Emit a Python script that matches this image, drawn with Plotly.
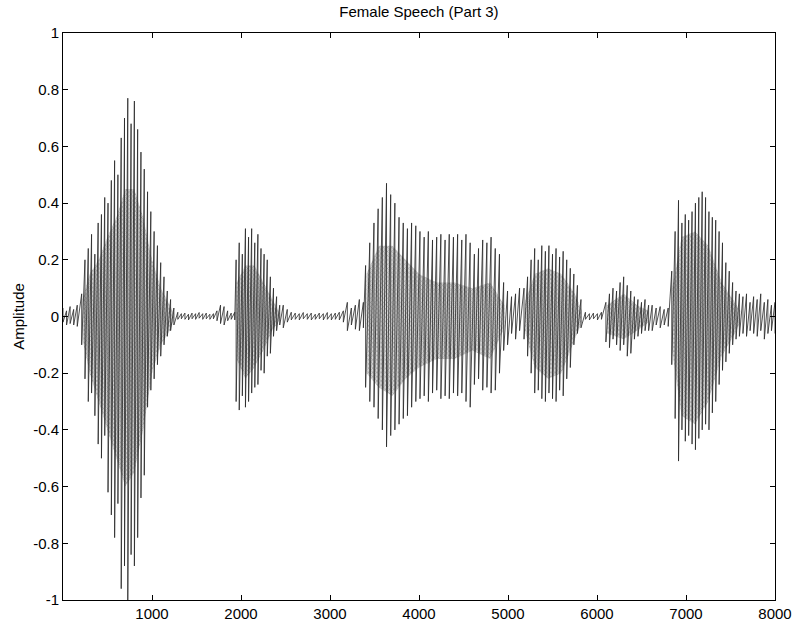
import plotly.graph_objects as go

# Speech waveform, described by the positive and negative peak of each
# pitch pulse (sample index, peak above zero, peak below zero).

# leading silence
n0_x = [0, 40, 80, 120, 160]
n0_hi = [0.03, 0.02, 0.035, 0.025, 0.04]
n0_lo = [-0.02, -0.03, -0.025, -0.03, -0.035]

# first vowel
v1_x = [210, 247, 284, 321, 358, 395, 432, 469, 506, 543, 580, 617, 654, 691, 728,
        765, 802, 839, 876, 913, 950, 987, 1024, 1061, 1098, 1135, 1172, 1209, 1246]
v1_hi = [0.08, 0.20, 0.24, 0.29, 0.22, 0.33, 0.36, 0.42, 0.40, 0.48, 0.55, 0.50, 0.63, 0.70, 0.77,
         0.68, 0.76, 0.66, 0.58, 0.52, 0.44, 0.37, 0.30, 0.25, 0.19, 0.14, 0.09, 0.06, 0.03]
v1_lo = [-0.10, -0.22, -0.30, -0.27, -0.35, -0.45, -0.50, -0.42, -0.62, -0.70, -0.78, -0.66, -0.96, -0.88, -1.00,
         -0.84, -0.88, -0.78, -0.64, -0.56, -0.32, -0.26, -0.22, -0.17, -0.14, -0.10, -0.07, -0.05, -0.03]

# pause
n1_x = [1290, 1330, 1370, 1410, 1450, 1490, 1530, 1570, 1610, 1650, 1690, 1730, 1770, 1810, 1850, 1890, 1930]
n1_hi = [0.015, 0.01, 0.012, 0.008, 0.012, 0.01, 0.014, 0.01, 0.012, 0.008, 0.01, 0.02, 0.04, 0.035, 0.02, 0.012, 0.015]
n1_lo = [-0.01, -0.008, -0.01, -0.012, -0.008, -0.01, -0.006, -0.01, -0.008, -0.01, -0.008, -0.015, -0.025, -0.03, -0.015, -0.01, -0.012]

# second vowel
v2_x = [1945, 1980, 2015, 2050, 2085, 2120, 2155, 2190, 2225, 2260, 2295, 2330, 2365, 2400, 2435]
v2_hi = [0.20, 0.26, 0.22, 0.31, 0.28, 0.31, 0.26, 0.29, 0.24, 0.22, 0.20, 0.14, 0.10, 0.07, 0.04]
v2_lo = [-0.30, -0.33, -0.28, -0.32, -0.30, -0.27, -0.25, -0.24, -0.19, -0.20, -0.14, -0.13, -0.07, -0.05, -0.03]

# pause
n2_x = [2475, 2520, 2565, 2610, 2655, 2700, 2745, 2790, 2835, 2880, 2925, 2970, 3015,
        3060, 3105, 3150, 3195, 3240, 3285, 3330, 3375]
n2_hi = [0.04, 0.025, 0.015, 0.012, 0.01, 0.014, 0.01, 0.012, 0.008, 0.012, 0.01, 0.014,
         0.01, 0.012, 0.015, 0.02, 0.05, 0.03, 0.04, 0.06, 0.05]
n2_lo = [-0.04, -0.02, -0.012, -0.01, -0.012, -0.008, -0.01, -0.012, -0.01, -0.008, -0.012,
         -0.01, -0.012, -0.01, -0.012, -0.02, -0.05, -0.03, -0.045, -0.05, -0.04]

# third vowel
v3_x = [3400, 3447, 3494, 3541, 3588, 3635, 3682, 3729, 3776, 3823, 3870, 3917, 3964, 4011,
        4058, 4105, 4152, 4199, 4246, 4293, 4340, 4387, 4434, 4481, 4528, 4575, 4622, 4669,
        4716, 4763, 4810, 4857, 4904, 4951]
v3_hi = [0.18, 0.26, 0.33, 0.38, 0.42, 0.47, 0.43, 0.40, 0.35, 0.33, 0.31, 0.33, 0.32, 0.30,
         0.28, 0.30, 0.27, 0.28, 0.29, 0.27, 0.29, 0.28, 0.29, 0.27, 0.29, 0.26, 0.22, 0.24,
         0.27, 0.26, 0.28, 0.24, 0.22, 0.12]
v3_lo = [-0.25, -0.30, -0.32, -0.36, -0.40, -0.46, -0.42, -0.40, -0.38, -0.36, -0.35, -0.32, -0.30, -0.29,
         -0.28, -0.30, -0.27, -0.26, -0.29, -0.28, -0.29, -0.27, -0.28, -0.27, -0.30, -0.32, -0.24, -0.22,
         -0.26, -0.25, -0.27, -0.26, -0.20, -0.12]

# short transition
t3_x = [4995, 5040, 5085, 5130]
t3_hi = [0.09, 0.07, 0.08, 0.10]
t3_lo = [-0.10, -0.06, -0.08, -0.05]

# fourth vowel
v4_x = [5180, 5220, 5260, 5300, 5340, 5380, 5420, 5460, 5500, 5540, 5580, 5620, 5660, 5700, 5740, 5780, 5820]
v4_hi = [0.10, 0.14, 0.20, 0.24, 0.20, 0.25, 0.23, 0.25, 0.22, 0.24, 0.21, 0.23, 0.20, 0.17, 0.15, 0.11, 0.06]
v4_lo = [-0.08, -0.14, -0.20, -0.27, -0.26, -0.29, -0.30, -0.27, -0.29, -0.30, -0.26, -0.28, -0.22, -0.18, -0.10, -0.06, -0.04]

# pause
n3_x = [5870, 5915, 5960, 6005, 6050]
n3_hi = [0.015, 0.01, 0.012, 0.01, 0.015]
n3_lo = [-0.01, -0.012, -0.008, -0.012, -0.01]

# fifth (weak) vowel
v5_x = [6100, 6140, 6180, 6220, 6260, 6300, 6340, 6380, 6420, 6460, 6500, 6540, 6580]
v5_hi = [0.05, 0.08, 0.10, 0.09, 0.12, 0.14, 0.11, 0.09, 0.07, 0.06, 0.05, 0.06, 0.04]
v5_lo = [-0.09, -0.11, -0.08, -0.10, -0.12, -0.10, -0.14, -0.13, -0.08, -0.07, -0.06, -0.05, -0.05]

# pause
n4_x = [6620, 6665, 6710, 6755, 6800]
n4_hi = [0.04, 0.03, 0.035, 0.025, 0.03]
n4_lo = [-0.05, -0.03, -0.04, -0.03, -0.035]

# sixth vowel
v6_x = [6840, 6878, 6916, 6954, 6992, 7030, 7068, 7106, 7144, 7182, 7220, 7258, 7296, 7334,
        7372, 7410, 7448, 7486, 7524, 7562, 7600]
v6_hi = [0.16, 0.30, 0.41, 0.33, 0.36, 0.34, 0.37, 0.40, 0.42, 0.44, 0.42, 0.37, 0.35, 0.34,
         0.30, 0.26, 0.19, 0.16, 0.12, 0.09, 0.08]
v6_lo = [-0.17, -0.36, -0.51, -0.40, -0.44, -0.42, -0.45, -0.47, -0.43, -0.40, -0.38, -0.40, -0.34, -0.30,
         -0.24, -0.19, -0.16, -0.13, -0.10, -0.08, -0.07]

# trailing breath noise
n5_x = [7640, 7680, 7720, 7760, 7800, 7840, 7880, 7920, 7960, 8000]
n5_hi = [0.07, 0.08, 0.05, 0.07, 0.06, 0.08, 0.05, 0.06, 0.04, 0.05]
n5_lo = [-0.06, -0.07, -0.05, -0.06, -0.07, -0.05, -0.08, -0.06, -0.05, -0.06]

# dense inner oscillation between pulses (the band the signal fills most of the time)
c1_x = [220, 300, 400, 500, 600, 700, 800, 900, 1000, 1100, 1200, 1250]
c1_hi = [0.06, 0.15, 0.20, 0.28, 0.35, 0.45, 0.45, 0.35, 0.20, 0.10, 0.04, 0.01]
c1_lo = [-0.08, -0.20, -0.30, -0.40, -0.50, -0.60, -0.55, -0.40, -0.20, -0.10, -0.05, -0.01]

c2_x = [1950, 2050, 2150, 2250, 2350, 2440]
c2_hi = [0.12, 0.18, 0.18, 0.12, 0.06, 0.01]
c2_lo = [-0.15, -0.22, -0.18, -0.12, -0.05, -0.01]

c3_x = [3410, 3550, 3700, 3850, 4000, 4200, 4400, 4600, 4800, 4960]
c3_hi = [0.15, 0.25, 0.25, 0.20, 0.15, 0.12, 0.12, 0.10, 0.12, 0.04]
c3_lo = [-0.20, -0.25, -0.28, -0.22, -0.18, -0.15, -0.15, -0.12, -0.15, -0.04]

c4_x = [5190, 5300, 5450, 5600, 5750, 5830]
c4_hi = [0.05, 0.15, 0.17, 0.15, 0.08, 0.02]
c4_lo = [-0.05, -0.18, -0.22, -0.20, -0.08, -0.02]

c5_x = [6110, 6300, 6450, 6580]
c5_hi = [0.04, 0.08, 0.04, 0.02]
c5_lo = [-0.06, -0.08, -0.05, -0.02]

c6_x = [6845, 6950, 7100, 7250, 7400, 7550, 7610]
c6_hi = [0.10, 0.28, 0.30, 0.25, 0.12, 0.05, 0.02]
c6_lo = [-0.12, -0.35, -0.38, -0.30, -0.14, -0.06, -0.02]

x_ticks = [1000, 2000, 3000, 4000, 5000, 6000, 7000, 8000]
y_ticks = [1, 0.8, 0.6, 0.4, 0.2, 0, -0.2, -0.4, -0.6, -0.8, -1]
y_labels = ["1", "0.8", "0.6", "0.4", "0.2", "0", "-0.2", "-0.4", "-0.6", "-0.8", "-1"]

segments = [
    (n0_x, n0_hi, n0_lo), (v1_x, v1_hi, v1_lo), (n1_x, n1_hi, n1_lo),
    (v2_x, v2_hi, v2_lo), (n2_x, n2_hi, n2_lo), (v3_x, v3_hi, v3_lo),
    (t3_x, t3_hi, t3_lo), (v4_x, v4_hi, v4_lo), (n3_x, n3_hi, n3_lo),
    (v5_x, v5_hi, v5_lo), (n4_x, n4_hi, n4_lo), (v6_x, v6_hi, v6_lo),
    (n5_x, n5_hi, n5_lo),
]
cores = [(c1_x, c1_hi, c1_lo), (c2_x, c2_hi, c2_lo), (c3_x, c3_hi, c3_lo),
         (c4_x, c4_hi, c4_lo), (c5_x, c5_hi, c5_lo), (c6_x, c6_hi, c6_lo)]

font = "Liberation Sans, Arial, Helvetica, sans-serif"

fig = go.Figure()

# inner band of each voiced stretch, closed as a polygon (upper edge, then lower edge back)
for cx, chi, clo in cores:
    fig.add_trace(go.Scatter(
        x=list(cx) + list(cx)[::-1], y=list(chi) + list(clo)[::-1],
        mode="lines", fill="toself",
        line=dict(width=0, color="rgba(0,0,0,0)"),
        fillcolor="rgba(130,130,130,0.45)",
        fillpattern=dict(shape="x", size=3, solidity=0.3,
                         fgcolor="#505050", bgcolor="rgba(165,165,165,0.45)"),
        hoverinfo="skip", showlegend=False,
    ))

# each pulse is drawn as a stroke from its positive to its negative peak
wave_x, wave_y = [], []
for sx, shi, slo in segments:
    for x, h, l in zip(sx, shi, slo):
        wave_x += [x, x]
        wave_y += [h, l]

fig.add_trace(go.Scatter(
    x=wave_x, y=wave_y, mode="lines",
    line=dict(color="#262626", width=0.8, simplify=False),
    hoverinfo="skip", showlegend=False,
))

axis_common = dict(
    showline=True, linecolor="#000000", linewidth=1, mirror="ticks",
    ticks="inside", ticklen=5, tickcolor="#000000", tickwidth=1,
    showgrid=False, zeroline=False, automargin=False,
    tickfont=dict(family=font, size=15, color="#000000"),
)

fig.update_layout(
    width=795, height=627,
    margin=dict(l=63, r=20, t=33, b=27),
    paper_bgcolor="#ffffff", plot_bgcolor="#ffffff",
    title=dict(text="Female Speech (Part 3)", x=0.527, xanchor="center",
               y=0.99, yanchor="top",
               font=dict(family=font, size=15, color="#000000")),
    xaxis=dict(range=[0, 8000], tickvals=x_ticks, **axis_common),
    yaxis=dict(range=[-1, 1], tickvals=y_ticks, ticktext=y_labels,
               title=dict(text="Amplitude", standoff=4,
                          font=dict(family=font, size=15, color="#000000")),
               **axis_common),
)

fig.write_html("out.html")
